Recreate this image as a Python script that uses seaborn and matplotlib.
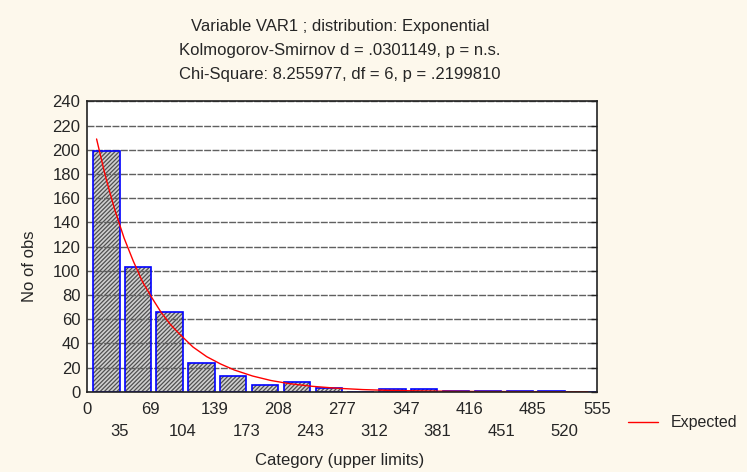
import numpy as np
import matplotlib
matplotlib.use("Agg")
import matplotlib.pyplot as plt
import seaborn as sns

# Category upper limits (bin edges) and observed counts per category
UPPER_LIMITS = [0, 35, 69, 104, 139, 173, 208, 243, 277, 312, 347, 381,
                416, 451, 485, 520, 555]
COUNTS = [199, 103, 66, 24, 13, 6, 8, 3, 0, 2, 2, 1, 1, 1, 1, 0]

# Expected (exponential) curve
EXP_X = [10, 20, 30, 40, 50, 60, 70, 80, 90, 100, 115, 130, 145, 160, 180,
         200, 220, 245, 270, 300, 330, 370, 420, 480, 545]
EXP_Y = [209, 177, 150, 127, 108, 91, 78, 66, 56, 48, 37, 29, 23, 18, 13,
         9.3, 6.7, 4.5, 3.0, 1.8, 1.1, 0.6, 0.26, 0.1, 0.03]

TITLE = ("Variable VAR1 ; distribution: Exponential\n"
         "Kolmogorov-Smirnov d = .0301149, p = n.s.\n"
         "Chi-Square: 8.255977, df = 6, p = .2199810")

BG = "#FDF8EC"

sns.set_theme(style="white")
plt.rcParams["font.family"] = ["Liberation Sans", "DejaVu Sans"]
plt.rcParams["hatch.linewidth"] = 0.9

fig = plt.figure(figsize=(7.47, 4.72), dpi=100, facecolor=BG)
ax = fig.add_axes([0.117, 0.170, 0.682, 0.615])
ax.set_facecolor("white")

edges = np.array(UPPER_LIMITS, dtype=float)
widths = np.diff(edges)
lefts = edges[:-1] + 0.17 * widths

# hatched fill, then blue outline on top
ax.bar(lefts, COUNTS, width=0.83 * widths, align="edge", color="#d0d0d0",
       hatch="////////", edgecolor="#505050", linewidth=0, zorder=2)
ax.bar(lefts, COUNTS, width=0.83 * widths, align="edge", color="none",
       edgecolor="#0000ff", linewidth=1.2, zorder=3)

sns.lineplot(x=EXP_X, y=EXP_Y, color="#ff0000", linewidth=1.0, ax=ax,
             zorder=4, label="Expected")

ax.set_xlim(0, 555)
ax.set_ylim(0, 240)
ax.set_yticks(np.arange(0, 241, 20))
ax.set_xticks(edges)
ax.set_xticklabels([lab if i % 2 == 0 else "\n" + lab
                    for i, lab in enumerate(map(str, UPPER_LIMITS))])
for lab in ax.get_xticklabels():
    lab.set_linespacing(1.55)
ax.tick_params(axis="both", direction="in", length=4, width=1, labelsize=12,
               color="#222222", pad=5)
ax.tick_params(axis="x", pad=7.5)
ax.tick_params(axis="y", right=True)
ax.yaxis.grid(True, color="#606060", linestyle=(0, (5, 1)), linewidth=1.0)
ax.set_axisbelow(False)
for line in ax.get_ygridlines():
    line.set_zorder(1)
for sp in ax.spines.values():
    sp.set_color("#222222")
    sp.set_linewidth(1.2)
    sp.set_zorder(5)

ax.set_xlabel("")
ax.set_ylabel("")
fig.text(0.455, 1 - 460 / 472, "Category (upper limits)", ha="center",
         va="center", fontsize=12)
fig.text(30 / 747, 1 - 266 / 472, "No of obs", rotation=90, ha="center",
         va="center", fontsize=12)
fig.text(0.455, 1 - 50 / 472, TITLE, ha="center", va="center", fontsize=12,
         linespacing=1.75)

ax.legend(loc="center left", bbox_to_anchor=(628 / 747, 1 - 423 / 472),
          bbox_transform=fig.transFigure, frameon=False, fontsize=11.5,
          handlelength=1.9, handletextpad=0.75, borderaxespad=0,
          borderpad=0)

fig.savefig("out.png", dpi=100, facecolor=BG)
